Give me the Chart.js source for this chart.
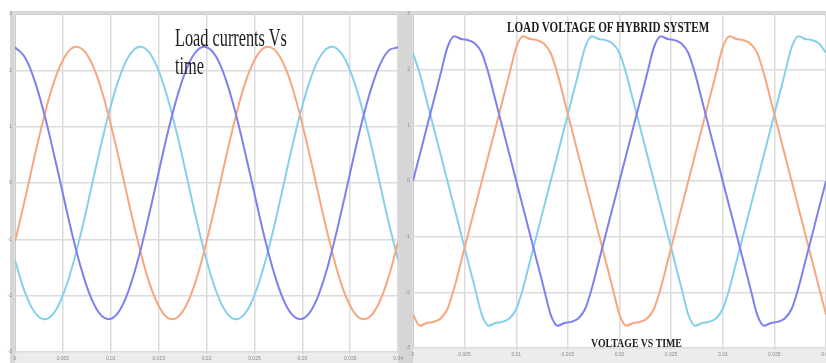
<!DOCTYPE html>
<html>
<head>
<meta charset="utf-8">
<script src="https://cdn.jsdelivr.net/npm/chart.js@4.4.1/dist/chart.umd.min.js"></script>
<style>
  html, body { margin: 0; padding: 0; background: #fff; }
  body { width: 826px; height: 363px; position: relative; overflow: hidden; }
  canvas { position: absolute; top: 0; }
  #currentChart { left: 0; }
  #voltageChart { left: 405px; }
  .title { position: absolute; white-space: nowrap; transform-origin: 0 0; color: #1c1c1c;
           font-family: "Liberation Serif", "DejaVu Serif", serif; line-height: 1; }
  .bold { font-weight: bold; }
</style>
</head>
<body>
<canvas id="currentChart" width="405" height="363"></canvas>
<canvas id="voltageChart" width="431" height="363"></canvas>
<div class="title" id="tCur1" data-w="112" style="left:175px; top:25px; font-size:25px;">Load currents Vs</div>
<div class="title" id="tCur2" style="left:175px; top:53px; font-size:25px;">time</div>
<div class="title bold" id="tVolt1" data-w="202" style="left:507px; top:20px; font-size:15px;">LOAD VOLTAGE OF HYBRID SYSTEM</div>
<div class="title bold" id="tVolt2" data-w="91" style="left:591px; top:336px; font-size:13px;">VOLTAGE VS TIME</div>
<script>
// time axis ticks (s) and value ticks, same for both panels
const xTickLabels = ['0', '0.005', '0.01', '0.015', '0.02', '0.025', '0.03', '0.035', '0.04'];
const yTickLabels = ['-3', '-2', '-1', '0', '1', '2', '3'];

// left panel: load currents, sampled every 1 ms
const currentTime = [0, 0.001, 0.002, 0.003, 0.004, 0.005, 0.006, 0.007, 0.008, 0.009,
  0.01, 0.011, 0.012, 0.013, 0.014, 0.015, 0.016, 0.017, 0.018, 0.019,
  0.02, 0.021, 0.022, 0.023, 0.024, 0.025, 0.026, 0.027, 0.028, 0.029,
  0.03, 0.031, 0.032, 0.033, 0.034, 0.035, 0.036, 0.037, 0.038, 0.039, 0.04];
const currentA = [2.41, 2.24, 1.84, 1.26, 0.56, -0.19, -0.93, -1.57, -2.06, -2.35,
  -2.41, -2.24, -1.84, -1.26, -0.56, 0.19, 0.93, 1.57, 2.06, 2.35,
  2.41, 2.24, 1.84, 1.26, 0.56, -0.19, -0.93, -1.57, -2.06, -2.35,
  -2.41, -2.24, -1.84, -1.26, -0.56, 0.19, 0.93, 1.57, 2.06, 2.35, 2.41];
const currentB = [-1.04, -0.32, 0.44, 1.15, 1.76, 2.18, 2.40, 2.38, 2.13, 1.67,
  1.04, 0.32, -0.44, -1.15, -1.76, -2.18, -2.40, -2.38, -2.13, -1.67,
  -1.04, -0.32, 0.44, 1.15, 1.76, 2.18, 2.40, 2.38, 2.13, 1.67,
  1.04, 0.32, -0.44, -1.15, -1.76, -2.18, -2.40, -2.38, -2.13, -1.67, -1.04];
const currentC = [-1.37, -1.92, -2.28, -2.42, -2.32, -1.99, -1.47, -0.81, -0.06, 0.69,
  1.37, 1.92, 2.28, 2.42, 2.32, 1.99, 1.47, 0.81, 0.06, -0.69,
  -1.37, -1.92, -2.28, -2.42, -2.32, -1.99, -1.47, -0.81, -0.06, 0.69,
  1.37, 1.92, 2.28, 2.42, 2.32, 1.99, 1.47, 0.81, 0.06, -0.69, -1.37];

// right panel: load voltage, flat-topped
const voltageTime = [0, 0.000667, 0.001333, 0.002, 0.002667, 0.003333, 0.004, 0.004667, 0.005333, 0.006,
  0.006667, 0.007333, 0.008, 0.008667, 0.009333, 0.01, 0.010667, 0.011333, 0.012, 0.012667,
  0.013333, 0.014, 0.014667, 0.015333, 0.016, 0.016667, 0.017333, 0.018, 0.018667, 0.019333,
  0.02, 0.020667, 0.021333, 0.022, 0.022667, 0.023333, 0.024, 0.024667, 0.025333, 0.026,
  0.026667, 0.027333, 0.028, 0.028667, 0.029333, 0.03, 0.030667, 0.031333, 0.032, 0.032667,
  0.033333, 0.034, 0.034667, 0.035333, 0.036, 0.036667, 0.037333, 0.038, 0.038667, 0.039333, 0.04];
const voltageA = [0, 0.48, 0.96, 1.44, 1.92, 2.40, 2.60, 2.55, 2.53, 2.47, 2.30, 1.92, 1.44, 0.96, 0.48,
  0, -0.48, -0.96, -1.44, -1.92, -2.40, -2.60, -2.55, -2.53, -2.47, -2.30, -1.92, -1.44, -0.96, -0.48,
  0, 0.48, 0.96, 1.44, 1.92, 2.40, 2.60, 2.55, 2.53, 2.47, 2.30, 1.92, 1.44, 0.96, 0.48,
  0, -0.48, -0.96, -1.44, -1.92, -2.40, -2.60, -2.55, -2.53, -2.47, -2.30, -1.92, -1.44, -0.96, -0.48, 0];
const voltageB = [-2.40, -2.60, -2.55, -2.53, -2.47, -2.30, -1.92, -1.44, -0.96, -0.48,
  0, 0.48, 0.96, 1.44, 1.92, 2.40, 2.60, 2.55, 2.53, 2.47, 2.30, 1.92, 1.44, 0.96, 0.48,
  0, -0.48, -0.96, -1.44, -1.92,
  -2.40, -2.60, -2.55, -2.53, -2.47, -2.30, -1.92, -1.44, -0.96, -0.48,
  0, 0.48, 0.96, 1.44, 1.92, 2.40, 2.60, 2.55, 2.53, 2.47, 2.30, 1.92, 1.44, 0.96, 0.48,
  0, -0.48, -0.96, -1.44, -1.92, -2.40];
const voltageC = [2.30, 1.92, 1.44, 0.96, 0.48, 0, -0.48, -0.96, -1.44, -1.92,
  -2.40, -2.60, -2.55, -2.53, -2.47, -2.30, -1.92, -1.44, -0.96, -0.48,
  0, 0.48, 0.96, 1.44, 1.92, 2.40, 2.60, 2.55, 2.53, 2.47,
  2.30, 1.92, 1.44, 0.96, 0.48, 0, -0.48, -0.96, -1.44, -1.92,
  -2.40, -2.60, -2.55, -2.53, -2.47, -2.30, -1.92, -1.44, -0.96, -0.48,
  0, 0.48, 0.96, 1.44, 1.92, 2.40, 2.60, 2.55, 2.53, 2.47, 2.30];

const colorA = '#7f7ff0';
const colorB = '#f5a87f';
const colorC = '#86d0ec';

// grey scope frame behind the white plot area
const framePlugin = {
  id: 'frame',
  beforeDraw: (chart, args, opts) => {
    const { ctx, chartArea: a } = chart;
    ctx.save();
    ctx.fillStyle = '#d6d6d6';
    ctx.fillRect(opts.left, opts.top, chart.width - opts.left, chart.height - opts.top);
    ctx.fillStyle = '#ececec';
    ctx.fillRect(a.left, a.bottom, a.right - a.left, chart.height - a.bottom);
    ctx.fillStyle = '#fff';
    ctx.fillRect(a.left, a.top, a.right - a.left, a.bottom - a.top);
    ctx.strokeStyle = '#bdbdbd';
    ctx.lineWidth = 1;
    ctx.strokeRect(a.left + 0.5, a.top + 0.5, a.right - a.left - 1, a.bottom - a.top - 1);
    ctx.restore();
  }
};

const toPoints = (times, values) => times.map((t, i) => ({ x: t, y: values[i] }));

const makeChart = (id, times, series, cfg) => {
  const ctx = document.getElementById(id).getContext('2d');
  return new Chart(ctx, {
    type: 'line',
    data: {
      datasets: series.map(s => ({
        data: toPoints(times, s.values),
        borderColor: s.color,
        borderWidth: 2,
        pointRadius: 0,
        fill: false,
        tension: cfg.tension,
        cubicInterpolationMode: cfg.mode
      }))
    },
    options: {
      responsive: false,
      animation: false,
      devicePixelRatio: 1,
      layout: { padding: cfg.padding },
      plugins: {
        legend: { display: false },
        tooltip: { enabled: false },
        frame: cfg.frame
      },
      scales: {
        x: {
          type: 'linear',
          min: 0,
          max: 0.04,
          afterFit: scale => { scale.height = cfg.xHeight; },
          grid: { color: '#dcdcdc', lineWidth: 1.5, tickLength: 2 },
          border: { display: false },
          ticks: {
            stepSize: 0.005,
            autoSkip: false,
            maxRotation: 0,
            padding: 2,
            color: '#8a8a8a',
            font: { size: 5 },
            callback: (v, i) => xTickLabels[i]
          }
        },
        y: {
          min: -3,
          max: 3,
          afterFit: scale => { scale.width = cfg.yWidth; },
          grid: { color: '#dcdcdc', lineWidth: 1.5, tickLength: 2 },
          border: { display: false },
          ticks: {
            stepSize: 1,
            padding: 1,
            color: '#8a8a8a',
            font: { size: 5 },
            callback: (v, i) => yTickLabels[i]
          }
        }
      }
    },
    plugins: [framePlugin]
  });
};

makeChart('currentChart', currentTime, [
  { values: currentA, color: colorA },
  { values: currentB, color: colorB },
  { values: currentC, color: colorC }
], {
  tension: 0.4, mode: 'default',
  padding: { top: 14, right: 4, left: 0, bottom: 0 },
  frame: { left: 10, top: 11 },
  xHeight: 11, yWidth: 15
});

makeChart('voltageChart', voltageTime, [
  { values: voltageA, color: colorA },
  { values: voltageB, color: colorB },
  { values: voltageC, color: colorC }
], {
  tension: 0, mode: 'monotone',
  padding: { top: 14, right: 10, left: 0, bottom: 0 },
  frame: { left: 0, top: 11 },
  xHeight: 15, yWidth: 8
});

// squeeze the titles horizontally to their width in the picture
const first = document.getElementById('tCur1');
document.querySelectorAll('.title[data-w]').forEach(el => {
  el.style.transform = `scaleX(${el.dataset.w / el.offsetWidth})`;
});
document.getElementById('tCur2').style.transform = first.style.transform;
</script>
</body>
</html>
